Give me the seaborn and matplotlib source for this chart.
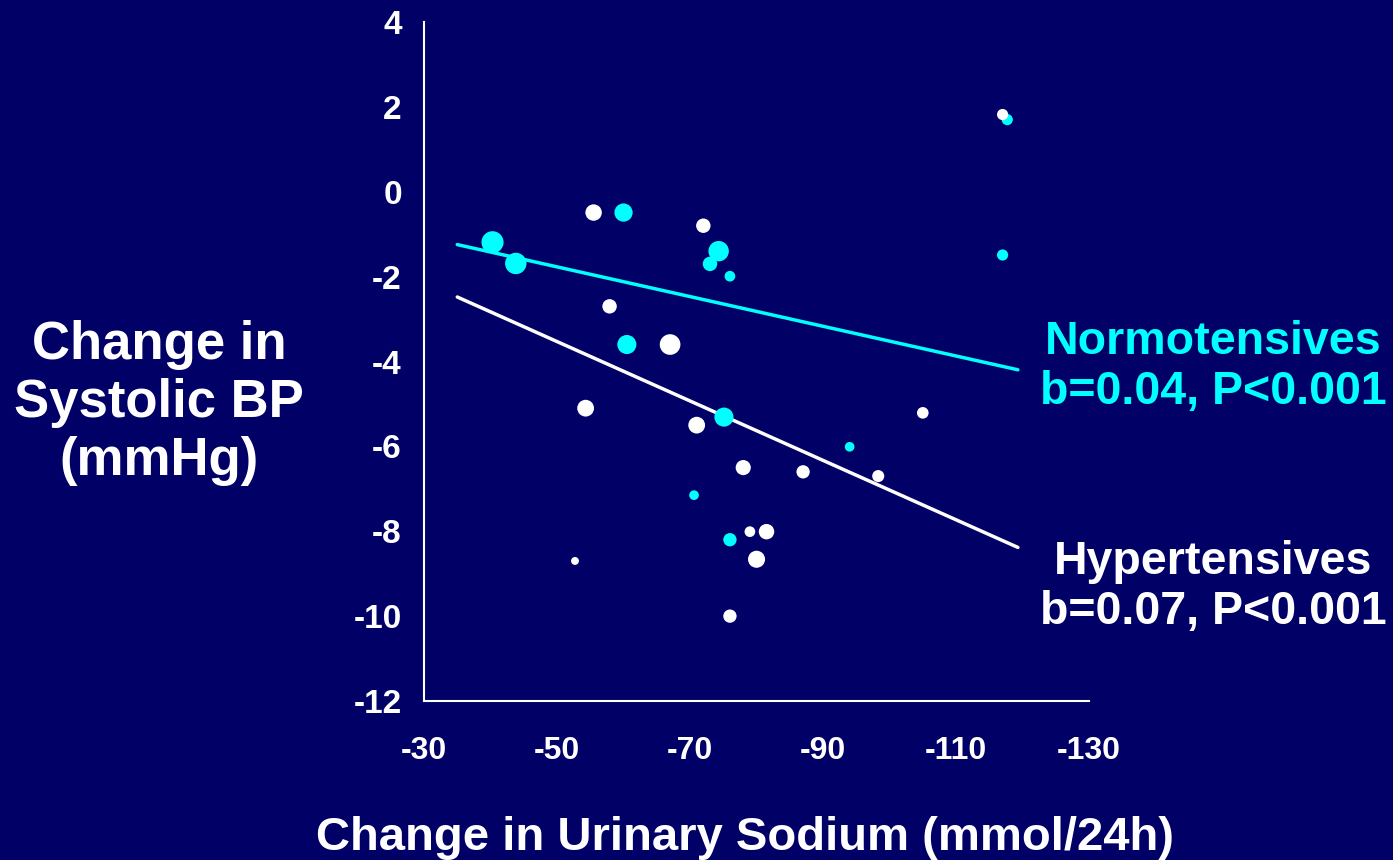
import numpy as np
import pandas as pd
import matplotlib
matplotlib.use("Agg")
import matplotlib.pyplot as plt
import seaborn as sns

# change in urinary sodium (mmol/24h) and change in systolic BP (mmHg), per trial
normo_sodium = [-40.3, -43.8, -60.0, -74.3, -73.0, -76.0, -60.5, -75.1, -94.0,
                -70.6, -76.0, -117.7, -117.0]
normo_sbp = [-1.19, -1.69, -0.49, -1.40, -1.70, -1.99, -3.60, -5.31, -6.01,
             -7.15, -8.20, 1.70, -1.49]
normo_weight = [4.7, 4.4, 3.2, 4.0, 2.0, 1.1, 3.5, 3.5, 0.9, 0.9, 1.7, 1.2, 1.2]

hyper_sodium = [-55.5, -72.0, -57.9, -67.0, -54.3, -71.0, -78.0, -87.0, -105.0,
                -98.3, -79.0, -81.5, -80.0, -52.7, -76.0, -117.0]
hyper_sbp = [-0.49, -0.80, -2.70, -3.60, -5.10, -5.50, -6.50, -6.60, -5.21,
             -6.70, -8.01, -8.01, -8.66, -8.70, -10.00, 1.82]
hyper_weight = [2.6, 2.0, 2.0, 4.1, 2.7, 2.7, 2.2, 1.7, 1.3, 1.4, 1.1, 2.3, 2.8,
                0.6, 1.7, 1.2]

# regression fits: SBP = intercept + slope * sodium
groups = ["Normotensives", "Hypertensives"]
fit_slope = [0.035, 0.070]
fit_intercept = [-0.02, -0.03]
fit_span = [-35, -119.3]
fit_labels = ["Normotensives\nb=0.04, P<0.001", "Hypertensives\nb=0.07, P<0.001"]

x_ticks = [-30, -50, -70, -90, -110, -130]
y_ticks = [4, 2, 0, -2, -4, -6, -8, -10, -12]

BG = "#000066"
CYAN = "#00FFFF"
colors = {"Normotensives": CYAN, "Hypertensives": "white"}

sns.set_style("white")
plt.rcParams["font.family"] = ["Liberation Sans", "DejaVu Sans"]
plt.rcParams["font.weight"] = "bold"
plt.rcParams["axes.unicode_minus"] = False

df = pd.concat([
    pd.DataFrame({"sodium": normo_sodium, "sbp": normo_sbp,
                  "weight": normo_weight, "group": "Normotensives"}),
    pd.DataFrame({"sodium": hyper_sodium, "sbp": hyper_sbp,
                  "weight": hyper_weight, "group": "Hypertensives"}),
], ignore_index=True)

fits = pd.concat([
    pd.DataFrame({"sodium": fit_span,
                  "sbp": [fit_intercept[i] + fit_slope[i] * x for x in fit_span],
                  "group": g})
    for i, g in enumerate(groups)
], ignore_index=True)

fig = plt.figure(figsize=(13.93, 8.6), dpi=100, facecolor=BG)
ax = fig.add_axes([0.3044, 0.1849, 0.4774, 0.7895])
ax.set_facecolor(BG)

sns.lineplot(data=fits, x="sodium", y="sbp", hue="group", palette=colors,
             linewidth=2.5, legend=False, ax=ax, zorder=2)
sns.scatterplot(data=df, x="sodium", y="sbp", hue="group", palette=colors,
                size="weight", sizes=(27, 270), size_norm=(0.5, 5.0),
                linewidth=0, alpha=1, legend=False, ax=ax, zorder=3)

ax.set_xlim(-30, -130)
ax.set_ylim(-12, 4)
ax.set_xticks(x_ticks)
ax.set_yticks(y_ticks)
ax.set_xlabel("")
ax.set_ylabel("")

for side in ["top", "right"]:
    ax.spines[side].set_visible(False)
for side in ["left", "bottom"]:
    ax.spines[side].set_color("white")
    ax.spines[side].set_linewidth(1.5)

ax.tick_params(axis="both", colors="white", width=1.5, length=7,
               direction="out")
ax.tick_params(axis="x", pad=18, labelsize=23)
ax.tick_params(axis="y", pad=9, labelsize=24)
for lab in ax.get_xticklabels() + ax.get_yticklabels():
    lab.set_fontweight("bold")

fig.text(159 / 1393, 1 - 403 / 860, "Change in\nSystolic BP\n(mmHg)",
         ha="center", va="center", color="white", fontsize=38,
         fontweight="bold", linespacing=1.2)
fig.text(745 / 1393, 10 / 860, "Change in Urinary Sodium (mmol/24h)",
         ha="center", va="baseline", color="white", fontsize=34,
         fontweight="bold")

label_y = [367, 587]
for i, g in enumerate(groups):
    fig.text(1213 / 1393, 1 - label_y[i] / 860, fit_labels[i], ha="center",
             va="center", color=colors[g], fontsize=33.5, fontweight="bold",
             linespacing=1.2)

fig.savefig("out.png", dpi=100, facecolor=BG)
